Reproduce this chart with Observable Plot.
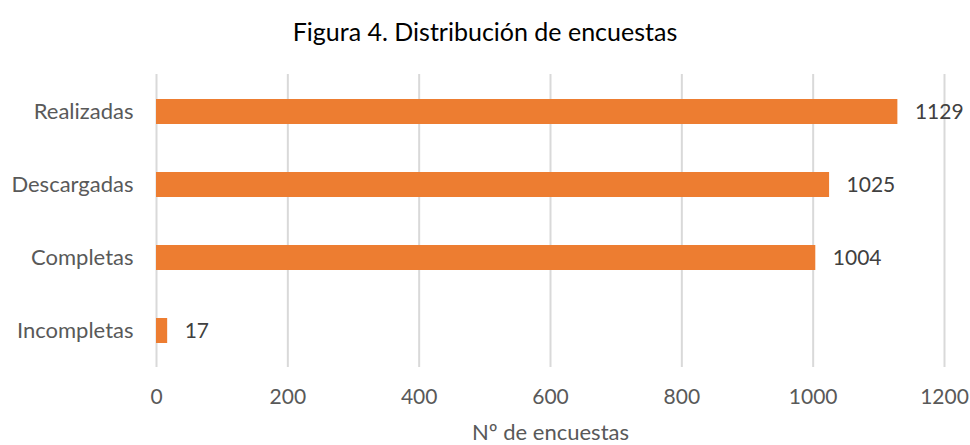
<!DOCTYPE html>
<html><head><meta charset="utf-8">
<script src="https://cdn.jsdelivr.net/npm/d3@7"></script>
<script src="https://cdn.jsdelivr.net/npm/@observablehq/plot@0.6"></script>
<style>
body{margin:0;background:#fff;font-family:Lato,sans-serif;}
#title{height:60px;line-height:62px;text-align:center;font-size:25px;color:#000;width:970px;}
#chart svg{display:block;}
</style></head><body>
<div id="title">Figura 4. Distribución de encuestas</div>
<div id="chart"></div>
<script>
const categories = ["Realizadas","Descargadas","Completas","Incompletas"];
const values = [1129, 1025, 1004, 17];
const xTicks = [0,200,400,600,800,1000,1200];
const axisTitle = "Nº de encuestas";

const data = categories.map((c,i)=>({cat:c, val:values[i]}));

const chart = Plot.plot({
  width: 970, height: 385,
  marginTop: 14, marginBottom: 78, marginLeft: 156, marginRight: 26,
  style: {fontFamily: "Lato, sans-serif", fontSize: "21px", color: "#595959", background: "#fff"},
  x: {domain: [0,1200], ticks: xTicks, label: null},
  y: {domain: categories, paddingInner: 0.66, paddingOuter: 0.33, label: null},
  marks: [
    Plot.ruleX(xTicks, {stroke: "#d9d9d9", strokeWidth: 2}),
    Plot.barX(data, {y: "cat", x: "val", fill: "#ED7D31"}),
    Plot.text(data, {y: "cat", x: "val", text: d => String(d.val), textAnchor: "start", dx: 17, fill: "#404040", fontSize: 21}),
    Plot.axisX({ticks: xTicks, tickFormat: d => String(d), tickSize: 0, tickPadding: 22, fill: "#595959", fontSize: 21}),
    Plot.axisY({tickSize: 0, tickPadding: 23, fill: "#595959", fontSize: 22}),
    Plot.text([axisTitle], {frameAnchor: "bottom", dy: 65, lineAnchor: "middle", fill: "#595959", fontSize: 22})
  ]
});
document.getElementById("chart").appendChild(chart);
</script>
</body></html>
